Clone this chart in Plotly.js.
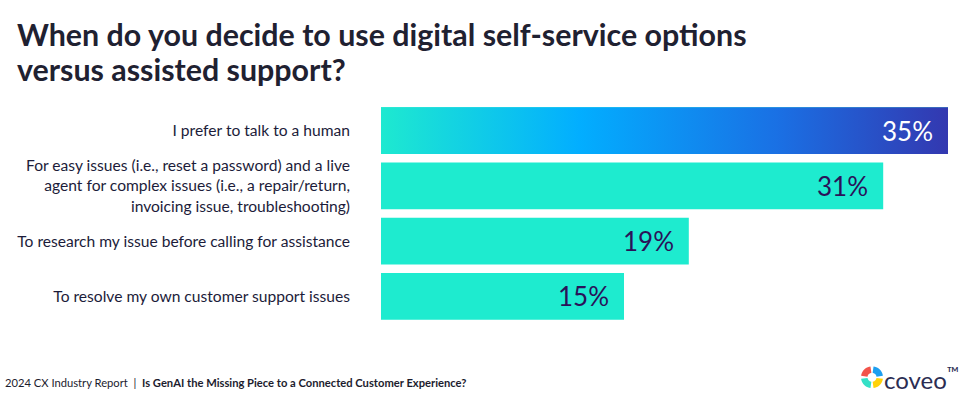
<!DOCTYPE html>
<html>
<head>
<meta charset="utf-8">
<script src="https://cdn.plot.ly/plotly-3.0.1.min.js"></script>
<style>html,body{margin:0;padding:0;background:#fff;}#chart{width:971px;height:399px;}</style>
</head>
<body>
<div id="chart"></div>
<script>
// ---- data ----
const categories = [
  "I prefer to talk to a human",
  "For easy issues (i.e., reset a password) and a live<br>agent for complex issues (i.e., a repair/return,<br>invoicing issue, troubleshooting)",
  "To research my issue before calling for assistance",
  "To resolve my own customer support issues"
];
const values = [35, 31, 19, 15];
const valueLabels = ["35%", "31%", "19%", "15%"];
const titleLines = ["When do you decide to use digital self-service options", "versus assisted support?"];
const footerText = "2024 CX Industry Report  |  <b>Is GenAI the Missing Piece to a Connected Customer Experience?</b>";

// ---- styling ----
const teal = "#1eebcf";
const barWidth = 0.85;
const gradientScale = [[0, "#1ee9d0"], [0.35, "#02aeff"], [0.7, "#1a70e4"], [1, "#3338b0"]];
const ypos = categories.map((c, i) => i);

// plot-area geometry (pixels) used for paper-coordinate conversions
const L = 381, R = 948, T = 102.5, B = 324.5;
const px = x => (x - L) / (R - L);
const py = y => (B - y) / (B - T);

const traces = [{
  type: "bar",
  orientation: "h",
  y: ypos,
  x: values,
  width: barWidth,
  marker: {color: values.map(() => teal), line: {width: 0}},
  hoverinfo: "skip"
}];

// gradient overlay for the top (highlighted) bar
const hi = 0;
traces.push({
  type: "scatter",
  mode: "lines",
  x: [0, values[hi], values[hi], 0, 0],
  y: [ypos[hi] - barWidth / 2, ypos[hi] - barWidth / 2, ypos[hi] + barWidth / 2, ypos[hi] + barWidth / 2, ypos[hi] - barWidth / 2],
  fill: "toself",
  line: {width: 0, color: "rgba(0,0,0,0)"},
  fillgradient: {type: "horizontal", colorscale: gradientScale},
  hoverinfo: "skip",
  showlegend: false
});

const annotations = values.map((v, i) => ({
  x: v, y: ypos[i], xref: "x", yref: "y",
  text: valueLabels[i], showarrow: false,
  xanchor: "right", xshift: -13, yshift: 0,
  font: {family: "Lato, sans-serif", size: 26, color: i === hi ? "#ffffff" : "#2a1259"}
}));

const titleY = [33, 68];
titleLines.forEach((t, i) => annotations.push({
  xref: "paper", yref: "paper", x: px(15), y: py(titleY[i]),
  xanchor: "left", yanchor: "middle", showarrow: false, align: "left",
  text: t,
  font: {family: "Lato, sans-serif", size: 30.4, color: "#1f2131", weight: 700}
}));
annotations.push({
  xref: "paper", yref: "paper", x: px(3), y: py(383),
  xanchor: "left", yanchor: "middle", showarrow: false,
  text: footerText,
  font: {family: "Lato, sans-serif", size: 11.2, color: "#1c1c2e"}
});
annotations.push({
  xref: "paper", yref: "paper", x: px(882), y: py(379),
  xanchor: "left", yanchor: "middle", showarrow: false,
  text: "coveo<sup style='font-size:60%'>™</sup>",
  font: {family: "Lato, sans-serif", size: 24, color: "#2b2d52"}
});

// logo icon: four quarter-ring segments (polygons in paper coords)
function ringPath(cx, cy, a0, a1, r0, r1) {
  const pts = [];
  const n = 10;
  for (let j = 0; j <= n; j++) { const a = a0 + (a1 - a0) * j / n; pts.push([cx + r1 * Math.cos(a), cy - r1 * Math.sin(a)]); }
  for (let j = n; j >= 0; j--) { const a = a0 + (a1 - a0) * j / n; pts.push([cx + r0 * Math.cos(a), cy - r0 * Math.sin(a)]); }
  return "M" + pts.map(p => px(p[0]).toFixed(5) + "," + py(p[1]).toFixed(5)).join(" L") + " Z";
}
const logoColors = ["#1d9ff0", "#f2544a", "#34e0c6", "#ffd20a"];
const shapes = logoColors.map((c, k) => {
  const a0 = Math.PI / 2 * k + 0.14, a1 = Math.PI / 2 * (k + 1) - 0.14;
  return {
    type: "path", xref: "paper", yref: "paper",
    path: ringPath(872, 378, a0, a1, 4.5, 11),
    fillcolor: c, line: {width: 0}
  };
});

const layout = {
  width: 971, height: 399,
  margin: {l: L, r: 971 - R, t: T, b: 399 - B, pad: 0},
  paper_bgcolor: "#ffffff", plot_bgcolor: "#ffffff",
  showlegend: false,
  xaxis: {range: [0, 35], visible: false, fixedrange: true},
  yaxis: {
    range: [3.5, -0.5], tickmode: "array", tickvals: ypos, ticktext: categories,
    showgrid: false, zeroline: false, showline: false, ticks: "",
    ticklabelstandoff: 30,
    tickfont: {family: "Lato, sans-serif", size: 15.6, color: "#1c1c3a"}
  },
  annotations: annotations,
  shapes: shapes
};

Plotly.newPlot("chart", traces, layout, {displayModeBar: false, staticPlot: true});
</script>
</body>
</html>
